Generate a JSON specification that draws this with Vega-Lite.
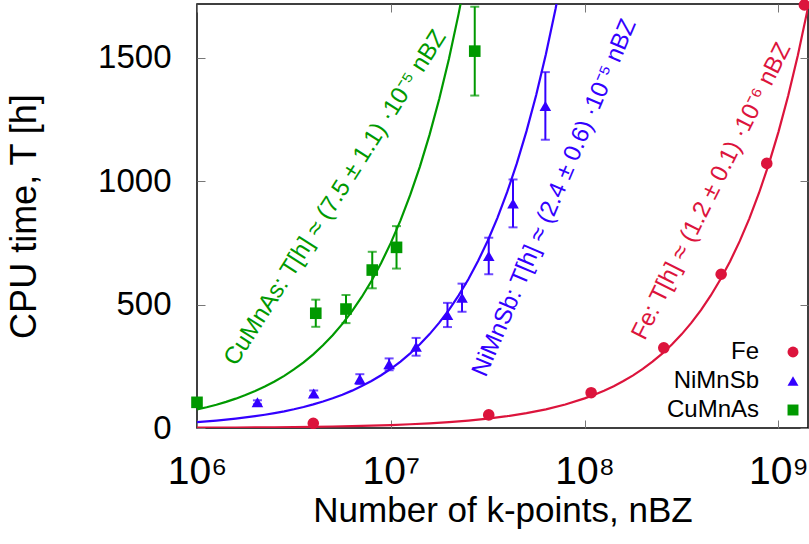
{
  "$schema": "https://vega.github.io/schema/vega-lite/v6.json",
  "width": 611,
  "height": 424,
  "autosize": {"type": "none"},
  "padding": {"left": 197, "top": 4, "right": 1, "bottom": 116},
  "background": "white",
  "config": {
    "font": "Liberation Sans",
    "view": {"stroke": "#000", "strokeWidth": 1.5},
    "axis": {"grid": false, "domain": false, "tickColor": "#777", "tickWidth": 1, "labelColor": "#000", "titleColor": "#000", "titleFontWeight": "normal"}
  },
  "datasets": {
    "fits": [
      {"s": "Fe", "n": 1e6, "T": 1.2}, {"s": "Fe", "n": 1.25893e6, "T": 1.511}, {"s": "Fe", "n": 1.58489e6, "T": 1.902}, {"s": "Fe", "n": 1.99526e6, "T": 2.394}, {"s": "Fe", "n": 2.51189e6, "T": 3.014}, {"s": "Fe", "n": 3.16228e6, "T": 3.795}, {"s": "Fe", "n": 3.98107e6, "T": 4.777}, {"s": "Fe", "n": 5.01187e6, "T": 6.014}, {"s": "Fe", "n": 6.30957e6, "T": 7.571}, {"s": "Fe", "n": 7.94328e6, "T": 9.532},
      {"s": "Fe", "n": 1e7, "T": 12}, {"s": "Fe", "n": 1.25893e7, "T": 15.107}, {"s": "Fe", "n": 1.58489e7, "T": 19.019}, {"s": "Fe", "n": 1.99526e7, "T": 23.943}, {"s": "Fe", "n": 2.51189e7, "T": 30.143}, {"s": "Fe", "n": 3.16228e7, "T": 37.947}, {"s": "Fe", "n": 3.98107e7, "T": 47.773}, {"s": "Fe", "n": 5.01187e7, "T": 60.142}, {"s": "Fe", "n": 6.30957e7, "T": 75.715}, {"s": "Fe", "n": 7.94328e7, "T": 95.319},
      {"s": "Fe", "n": 1e8, "T": 120}, {"s": "Fe", "n": 1.12202e8, "T": 134.64}, {"s": "Fe", "n": 1.25893e8, "T": 151.07}, {"s": "Fe", "n": 1.41254e8, "T": 169.5}, {"s": "Fe", "n": 1.58489e8, "T": 190.19}, {"s": "Fe", "n": 1.77828e8, "T": 213.39}, {"s": "Fe", "n": 1.99526e8, "T": 239.43}, {"s": "Fe", "n": 2.23872e8, "T": 268.65}, {"s": "Fe", "n": 2.51189e8, "T": 301.43}, {"s": "Fe", "n": 2.81838e8, "T": 338.21}, {"s": "Fe", "n": 3.16228e8, "T": 379.47}, {"s": "Fe", "n": 3.54813e8, "T": 425.78}, {"s": "Fe", "n": 3.98107e8, "T": 477.73}, {"s": "Fe", "n": 4.46684e8, "T": 536.02}, {"s": "Fe", "n": 5.01187e8, "T": 601.42}, {"s": "Fe", "n": 5.62341e8, "T": 674.81}, {"s": "Fe", "n": 6.30957e8, "T": 757.15}, {"s": "Fe", "n": 7.07946e8, "T": 849.54}, {"s": "Fe", "n": 7.94328e8, "T": 953.19}, {"s": "Fe", "n": 8.91251e8, "T": 1069.5}, {"s": "Fe", "n": 1e9, "T": 1200}, {"s": "Fe", "n": 1.12202e9, "T": 1346.42}, {"s": "Fe", "n": 1.25893e9, "T": 1510.72}, {"s": "Fe", "n": 1.41254e9, "T": 1695.05}, {"s": "Fe", "n": 1.58489e9, "T": 1901.87},
      {"s": "NiMnSb", "n": 1e6, "T": 24}, {"s": "NiMnSb", "n": 1.12202e6, "T": 26.93}, {"s": "NiMnSb", "n": 1.25893e6, "T": 30.21}, {"s": "NiMnSb", "n": 1.41254e6, "T": 33.9}, {"s": "NiMnSb", "n": 1.58489e6, "T": 38.04}, {"s": "NiMnSb", "n": 1.77828e6, "T": 42.68}, {"s": "NiMnSb", "n": 1.99526e6, "T": 47.89}, {"s": "NiMnSb", "n": 2.23872e6, "T": 53.73}, {"s": "NiMnSb", "n": 2.51189e6, "T": 60.29}, {"s": "NiMnSb", "n": 2.81838e6, "T": 67.64}, {"s": "NiMnSb", "n": 3.16228e6, "T": 75.89}, {"s": "NiMnSb", "n": 3.54813e6, "T": 85.16}, {"s": "NiMnSb", "n": 3.98107e6, "T": 95.55}, {"s": "NiMnSb", "n": 4.46684e6, "T": 107.2}, {"s": "NiMnSb", "n": 5.01187e6, "T": 120.28}, {"s": "NiMnSb", "n": 5.62341e6, "T": 134.96}, {"s": "NiMnSb", "n": 6.30957e6, "T": 151.43}, {"s": "NiMnSb", "n": 7.07946e6, "T": 169.91}, {"s": "NiMnSb", "n": 7.94328e6, "T": 190.64}, {"s": "NiMnSb", "n": 8.91251e6, "T": 213.9}, {"s": "NiMnSb", "n": 1e7, "T": 240}, {"s": "NiMnSb", "n": 1.12202e7, "T": 269.28}, {"s": "NiMnSb", "n": 1.25893e7, "T": 302.14}, {"s": "NiMnSb", "n": 1.41254e7, "T": 339.01}, {"s": "NiMnSb", "n": 1.58489e7, "T": 380.37}, {"s": "NiMnSb", "n": 1.77828e7, "T": 426.79}, {"s": "NiMnSb", "n": 1.99526e7, "T": 478.86}, {"s": "NiMnSb", "n": 2.23872e7, "T": 537.29}, {"s": "NiMnSb", "n": 2.51189e7, "T": 602.85}, {"s": "NiMnSb", "n": 2.81838e7, "T": 676.41}, {"s": "NiMnSb", "n": 3.16228e7, "T": 758.95}, {"s": "NiMnSb", "n": 3.54813e7, "T": 851.55}, {"s": "NiMnSb", "n": 3.98107e7, "T": 955.46}, {"s": "NiMnSb", "n": 4.46684e7, "T": 1072.04}, {"s": "NiMnSb", "n": 5.01187e7, "T": 1202.85}, {"s": "NiMnSb", "n": 5.62341e7, "T": 1349.62}, {"s": "NiMnSb", "n": 6.30957e7, "T": 1514.3}, {"s": "NiMnSb", "n": 7.07946e7, "T": 1699.07}, {"s": "NiMnSb", "n": 7.94328e7, "T": 1906.39},
      {"s": "CuMnAs", "n": 1e6, "T": 75}, {"s": "CuMnAs", "n": 1.12202e6, "T": 84.15}, {"s": "CuMnAs", "n": 1.25893e6, "T": 94.42}, {"s": "CuMnAs", "n": 1.41254e6, "T": 105.94}, {"s": "CuMnAs", "n": 1.58489e6, "T": 118.87}, {"s": "CuMnAs", "n": 1.77828e6, "T": 133.37}, {"s": "CuMnAs", "n": 1.99526e6, "T": 149.64}, {"s": "CuMnAs", "n": 2.23872e6, "T": 167.9}, {"s": "CuMnAs", "n": 2.51189e6, "T": 188.39}, {"s": "CuMnAs", "n": 2.81838e6, "T": 211.38}, {"s": "CuMnAs", "n": 3.16228e6, "T": 237.17}, {"s": "CuMnAs", "n": 3.54813e6, "T": 266.11}, {"s": "CuMnAs", "n": 3.98107e6, "T": 298.58}, {"s": "CuMnAs", "n": 4.46684e6, "T": 335.01}, {"s": "CuMnAs", "n": 5.01187e6, "T": 375.89}, {"s": "CuMnAs", "n": 5.62341e6, "T": 421.76}, {"s": "CuMnAs", "n": 6.30957e6, "T": 473.22}, {"s": "CuMnAs", "n": 7.07946e6, "T": 530.96}, {"s": "CuMnAs", "n": 7.94328e6, "T": 595.75}, {"s": "CuMnAs", "n": 8.91251e6, "T": 668.44}, {"s": "CuMnAs", "n": 1e7, "T": 750}, {"s": "CuMnAs", "n": 1.12202e7, "T": 841.52}, {"s": "CuMnAs", "n": 1.25893e7, "T": 944.2}, {"s": "CuMnAs", "n": 1.41254e7, "T": 1059.41}, {"s": "CuMnAs", "n": 1.58489e7, "T": 1188.67}, {"s": "CuMnAs", "n": 1.77828e7, "T": 1333.71}, {"s": "CuMnAs", "n": 1.99526e7, "T": 1496.45}, {"s": "CuMnAs", "n": 2.23872e7, "T": 1679.04}, {"s": "CuMnAs", "n": 2.51189e7, "T": 1883.92}
    ],
    "pts": [
      {"s": "Fe", "n": 3.98e6, "T": 19}, {"s": "Fe", "n": 3.2e7, "T": 53}, {"s": "Fe", "n": 1.08e8, "T": 143}, {"s": "Fe", "n": 2.56e8, "T": 325}, {"s": "Fe", "n": 5.06e8, "T": 623}, {"s": "Fe", "n": 8.7e8, "T": 1072}, {"s": "Fe", "n": 1.36e9, "T": 1714},
      {"s": "NiMnSb", "n": 2.05e6, "T": 104}, {"s": "NiMnSb", "n": 4.0e6, "T": 140}, {"s": "NiMnSb", "n": 6.92e6, "T": 198}, {"s": "NiMnSb", "n": 9.8e6, "T": 258}, {"s": "NiMnSb", "n": 1.35e7, "T": 329}, {"s": "NiMnSb", "n": 1.96e7, "T": 458}, {"s": "NiMnSb", "n": 2.33e7, "T": 528}, {"s": "NiMnSb", "n": 3.2e7, "T": 697}, {"s": "NiMnSb", "n": 4.27e7, "T": 910}, {"s": "NiMnSb", "n": 6.27e7, "T": 1305},
      {"s": "CuMnAs", "n": 1e6, "T": 104}, {"s": "CuMnAs", "n": 4.1e6, "T": 465}, {"s": "CuMnAs", "n": 5.87e6, "T": 482}, {"s": "CuMnAs", "n": 8.02e6, "T": 640}, {"s": "CuMnAs", "n": 1.07e7, "T": 732}, {"s": "CuMnAs", "n": 2.71e7, "T": 1527}
    ],
    "errs": [
      {"s": "NiMnSb", "n": 2.05e6, "T": 104, "e": 8}, {"s": "NiMnSb", "n": 4.0e6, "T": 140, "e": 12}, {"s": "NiMnSb", "n": 6.92e6, "T": 198, "e": 20}, {"s": "NiMnSb", "n": 9.8e6, "T": 258, "e": 24}, {"s": "NiMnSb", "n": 1.35e7, "T": 329, "e": 36}, {"s": "NiMnSb", "n": 1.96e7, "T": 458, "e": 49}, {"s": "NiMnSb", "n": 2.33e7, "T": 528, "e": 57}, {"s": "NiMnSb", "n": 3.2e7, "T": 697, "e": 74}, {"s": "NiMnSb", "n": 4.27e7, "T": 910, "e": 97}, {"s": "NiMnSb", "n": 6.27e7, "T": 1305, "e": 137},
      {"s": "CuMnAs", "n": 4.1e6, "T": 465, "e": 55}, {"s": "CuMnAs", "n": 5.87e6, "T": 482, "e": 57}, {"s": "CuMnAs", "n": 8.02e6, "T": 640, "e": 74}, {"s": "CuMnAs", "n": 1.07e7, "T": 732, "e": 86}, {"s": "CuMnAs", "n": 2.71e7, "T": 1527, "e": 180}
    ],
    "labels": [
      {"s": "CuMnAs", "n": 1.59e6, "T": 247, "label": "CuMnAs: T[h] ≈ (7.5 ± 1.1) ·10⁻⁵ nBZ"},
      {"s": "NiMnSb", "n": 3.09e7, "T": 203, "label": "NiMnSb: T[h] ≈ (2.4 ± 0.6) ·10⁻⁵ nBZ"},
      {"s": "Fe", "n": 2.04e8, "T": 352, "label": "Fe: T[h] ≈ (1.2 ± 0.1) ·10⁻⁶ nBZ"}
    ]
  },
  "resolve": {"axis": {"x": "independent", "y": "independent"}},
  "layer": [
    {
      "data": {"name": "fits"},
      "transform": [{"filter": "datum.s === 'Fe'"}],
      "mark": {"type": "line", "strokeWidth": 2.2, "clip": true, "color": "#dc143c"},
      "encoding": {
        "x": {"field": "n", "type": "quantitative", "scale": {"type": "log", "domain": [1e6, 1.42e9], "nice": false},
          "axis": {"orient": "bottom", "values": [1e6, 1e7, 1e8, 1e9], "labelExpr": "datum.value == 1e6 ? '10⁶' : datum.value == 1e7 ? '10⁷' : datum.value == 1e8 ? '10⁸' : '10⁹'", "labelFontSize": 39, "tickSize": -8, "labelPadding": 32, "title": "Number of k-points, nBZ", "titleFontSize": 35, "titlePadding": 2, "labelFlush": false}},
        "y": {"field": "T", "type": "quantitative", "scale": {"domain": [0, 1718], "nice": false, "zero": true},
          "axis": {"orient": "left", "values": [0, 500, 1000, 1500], "format": "d", "labelFontSize": 33, "tickSize": -8, "labelPadding": 34, "title": "CPU time, T [h]", "titleFontSize": 36, "titlePadding": 54}}
      }
    },
    {
      "data": {"name": "fits"},
      "transform": [{"filter": "datum.s === 'NiMnSb'"}],
      "mark": {"type": "line", "strokeWidth": 2.2, "clip": true, "color": "#3300ff"},
      "encoding": {
        "x": {"field": "n", "type": "quantitative", "scale": {"type": "log", "domain": [1e6, 1.42e9], "nice": false}, "axis": null},
        "y": {"field": "T", "type": "quantitative", "scale": {"domain": [0, 1718], "nice": false, "zero": true}, "axis": null}
      }
    },
    {
      "data": {"name": "fits"},
      "transform": [{"filter": "datum.s === 'CuMnAs'"}],
      "mark": {"type": "line", "strokeWidth": 2.2, "clip": true, "color": "#009900"},
      "encoding": {
        "x": {"field": "n", "type": "quantitative", "scale": {"type": "log", "domain": [1e6, 1.42e9], "nice": false}, "axis": null},
        "y": {"field": "T", "type": "quantitative", "scale": {"domain": [0, 1718], "nice": false, "zero": true}, "axis": null}
      }
    },
    {
      "data": {"name": "errs"},
      "transform": [{"filter": "datum.s === 'NiMnSb'"}],
      "mark": {"type": "errorbar", "ticks": true, "size": 9, "thickness": 2, "color": "#3300ff"},
      "encoding": {
        "x": {"field": "n", "type": "quantitative", "scale": {"type": "log", "domain": [1e6, 1.42e9], "nice": false}, "axis": null},
        "y": {"field": "T", "type": "quantitative", "scale": {"domain": [0, 1718], "nice": false, "zero": true}, "axis": null},
        "yError": {"field": "e"}
      }
    },
    {
      "data": {"name": "errs"},
      "transform": [{"filter": "datum.s === 'CuMnAs'"}],
      "mark": {"type": "errorbar", "ticks": true, "size": 9, "thickness": 2, "color": "#009900"},
      "encoding": {
        "x": {"field": "n", "type": "quantitative", "scale": {"type": "log", "domain": [1e6, 1.42e9], "nice": false}, "axis": null},
        "y": {"field": "T", "type": "quantitative", "scale": {"domain": [0, 1718], "nice": false, "zero": true}, "axis": null},
        "yError": {"field": "e"}
      }
    },
    {
      "data": {"name": "pts"},
      "mark": {"type": "point", "filled": true, "opacity": 1, "size": 135},
      "encoding": {
        "x": {"field": "n", "type": "quantitative", "scale": {"type": "log", "domain": [1e6, 1.42e9], "nice": false}, "axis": null},
        "y": {"field": "T", "type": "quantitative", "scale": {"domain": [0, 1718], "nice": false, "zero": true}, "axis": null},
        "color": {"field": "s", "type": "nominal", "scale": {"domain": ["Fe", "NiMnSb", "CuMnAs"], "range": ["#dc143c", "#3300ff", "#009900"]},
          "legend": {"title": null, "orient": "none", "legendX": 584, "legendY": 336, "padding": 0, "labelAlign": "right", "labelOffset": -46, "labelFontSize": 24, "labelColor": "#000", "symbolSize": 120, "rowPadding": 5}},
        "shape": {"field": "s", "type": "nominal", "scale": {"domain": ["Fe", "NiMnSb", "CuMnAs"], "range": ["circle", "triangle-up", "square"]}}
      }
    },
    {
      "data": {"name": "labels"},
      "transform": [{"filter": "datum.s === 'CuMnAs'"}],
      "mark": {"type": "text", "angle": -57.5, "align": "left", "baseline": "alphabetic", "fontSize": 24, "color": "#009900"},
      "encoding": {
        "x": {"field": "n", "type": "quantitative", "scale": {"type": "log", "domain": [1e6, 1.42e9], "nice": false},
          "axis": {"orient": "top", "values": [1e6, 1e7, 1e8, 1e9], "labels": false, "tickSize": -8, "title": null}},
        "y": {"field": "T", "type": "quantitative", "scale": {"domain": [0, 1718], "nice": false, "zero": true},
          "axis": {"orient": "right", "values": [0, 500, 1000, 1500], "labels": false, "tickSize": -8, "title": null}},
        "text": {"field": "label"}
      }
    },
    {
      "data": {"name": "labels"},
      "transform": [{"filter": "datum.s === 'NiMnSb'"}],
      "mark": {"type": "text", "angle": -67, "align": "left", "baseline": "alphabetic", "fontSize": 24, "color": "#3300ff"},
      "encoding": {
        "x": {"field": "n", "type": "quantitative", "scale": {"type": "log", "domain": [1e6, 1.42e9], "nice": false}, "axis": null},
        "y": {"field": "T", "type": "quantitative", "scale": {"domain": [0, 1718], "nice": false, "zero": true}, "axis": null},
        "text": {"field": "label"}
      }
    },
    {
      "data": {"name": "labels"},
      "transform": [{"filter": "datum.s === 'Fe'"}],
      "mark": {"type": "text", "angle": -63.5, "align": "left", "baseline": "alphabetic", "fontSize": 24, "color": "#dc143c"},
      "encoding": {
        "x": {"field": "n", "type": "quantitative", "scale": {"type": "log", "domain": [1e6, 1.42e9], "nice": false}, "axis": null},
        "y": {"field": "T", "type": "quantitative", "scale": {"domain": [0, 1718], "nice": false, "zero": true}, "axis": null},
        "text": {"field": "label"}
      }
    }
  ]
}
